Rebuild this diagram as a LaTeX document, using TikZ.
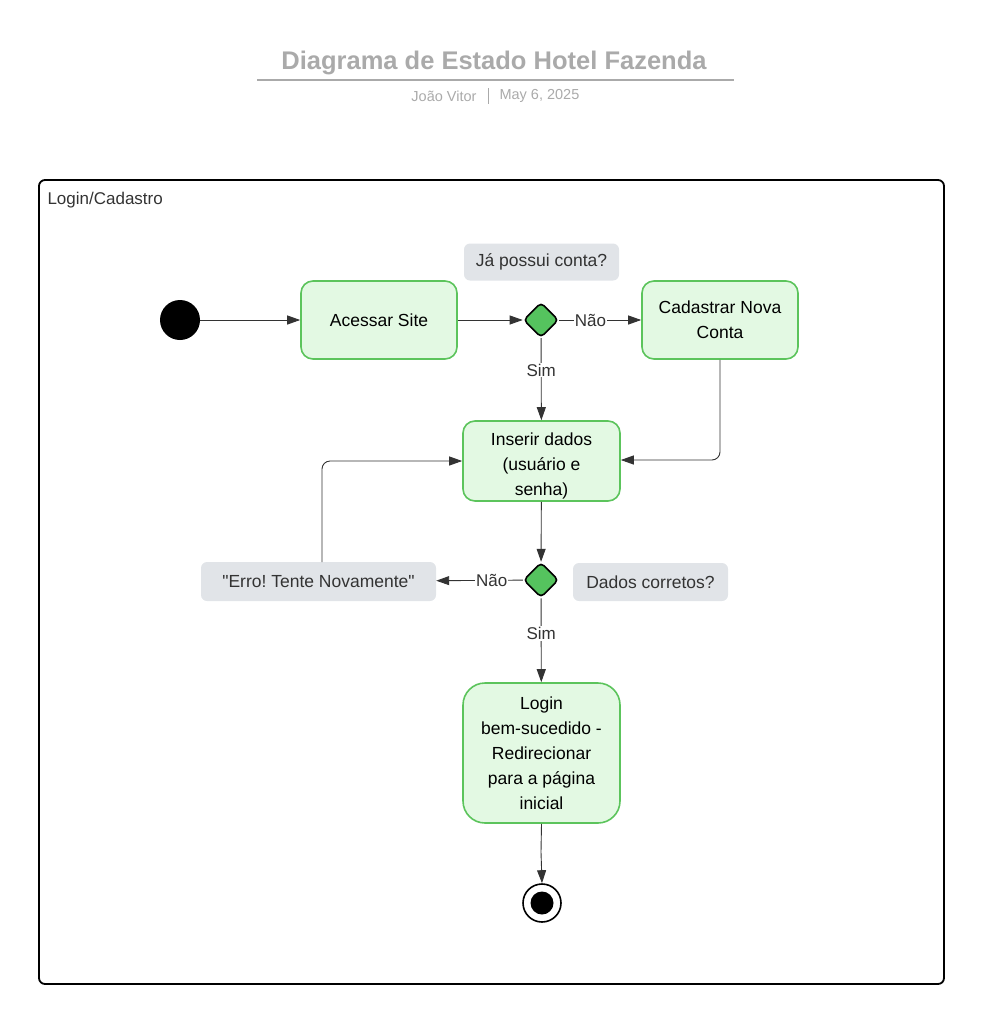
\documentclass[tikz,border=0pt]{standalone}
\usepackage{fontspec}
\setmainfont{Liberation Sans}
\usetikzlibrary{arrows.meta,shapes.geometric}
\frenchspacing
\definecolor{ttl}{HTML}{AAAAAA}
\definecolor{stfill}{HTML}{E3F9E3}
\definecolor{stdraw}{HTML}{5CC45C}
\definecolor{dfill}{HTML}{55C35E}
\definecolor{notefill}{HTML}{E1E4E8}
\definecolor{ln}{HTML}{333333}
\tikzset{
  statebox/.style={draw=stdraw,fill=stfill,line width=1.6pt,rounded corners=12pt,align=center,font=\fontsize{17.5}{25}\selectfont,text=black},
  notebox/.style={fill=notefill,rounded corners=6pt,align=center,font=\fontsize{17.5}{20}\selectfont,text=ln},
  decision/.style={diamond,draw=black,fill=dfill,line width=1.6pt,minimum width=35pt,minimum height=35pt,inner sep=0pt,rounded corners=4pt},
  conn/.style={draw=ln,line width=0.9pt,-{Triangle[length=13pt,width=9pt]}},
  lbl/.style={fill=white,inner sep=1pt,font=\fontsize{17}{18}\selectfont,text=ln},
}
\begin{document}
\begin{tikzpicture}[x=1pt,y=-1pt]
\useasboundingbox (0,0) rectangle (983,1023);
% title
\node[text=ttl,font=\bfseries\fontsize{25.5}{28}\selectfont] (title) at (494,63) {Diagrama de Estado Hotel Fazenda};
\draw[ttl,line width=1.5pt] (257,80) -- (734,80);
\node[text=ttl,font=\fontsize{14.5}{15}\selectfont,anchor=east] (author) at (480,96) {João Vitor};
\draw[ttl,line width=0.8pt] (488,88) -- (488,104);
\node[text=ttl,font=\fontsize{14.5}{15}\selectfont,anchor=west] (date) at (496,96) {May 6, 2025};
% frame
\draw[black,line width=1.8pt,rounded corners=6pt] (39,180) rectangle (944,984);
\node[anchor=west,font=\fontsize{17}{18}\selectfont,text=ln] (frame) at (44,200) {Login/Cadastro};
% nodes
\node[circle,fill=black,minimum size=40pt,inner sep=0pt] (start) at (180,320) {};
\node[statebox,minimum width=156pt,minimum height=78pt] (acessar) at (379,320) {Acessar Site};
\node[decision] (d1) at (541,320) {};
\node[notebox,minimum width=155pt,minimum height=37pt] (q1) at (541.5,262) {Já possui conta?};
\node[statebox,minimum width=156pt,minimum height=78pt] (cad) at (720,320) {Cadastrar Nova\\Conta};
\node[statebox,inner ysep=0pt,minimum width=157pt,minimum height=80pt] (ins) at (541.5,461) {\rule{0pt}{22pt}Inserir dados\\(usuário e\\senha)};
\node[decision] (d2) at (541,580) {};
\node[notebox,minimum width=235pt,minimum height=39pt] (erro) at (318.5,581.5) {\textquotedbl Erro! Tente Novamente\textquotedbl};
\node[notebox,minimum width=155pt,minimum height=38pt] (q2) at (650.5,582) {Dados corretos?};
\node[statebox,rounded corners=22pt,minimum width=157pt,minimum height=140pt] (login) at (541.5,753) {Login\\bem-sucedido -\\Redirecionar\\para a página\\inicial};
\node[circle,draw=black,line width=1.6pt,fill=white,minimum size=38pt,inner sep=0pt] (fin) at (542,903) {};
\node[circle,fill=black,minimum size=23pt,inner sep=0pt] (fininner) at (542,903) {};
% connectors
\draw[conn] (start) -- (acessar);
\draw[conn] (acessar) -- (d1);
\draw[conn] (d1) -- node[lbl,pos=0.38] {Não} (cad);
\draw[conn] (d1) -- node[lbl,pos=0.39] {Sim} (ins);
\draw[conn,rounded corners=8pt] (cad.south) -- (720,460) -- (ins.east |- 0,460);
\draw[conn] (ins) -- (d2);
\draw[conn] (d2) -- node[lbl,pos=0.36] {Não} (erro);
\draw[conn,rounded corners=8pt] (322,562) -- (322,461) -- (ins.west);
\draw[conn] (d2) -- node[lbl,pos=0.42] {Sim} (login);
\draw[conn] (login.south) -- (541,852) -- (fin.north);
\end{tikzpicture}
\end{document}
